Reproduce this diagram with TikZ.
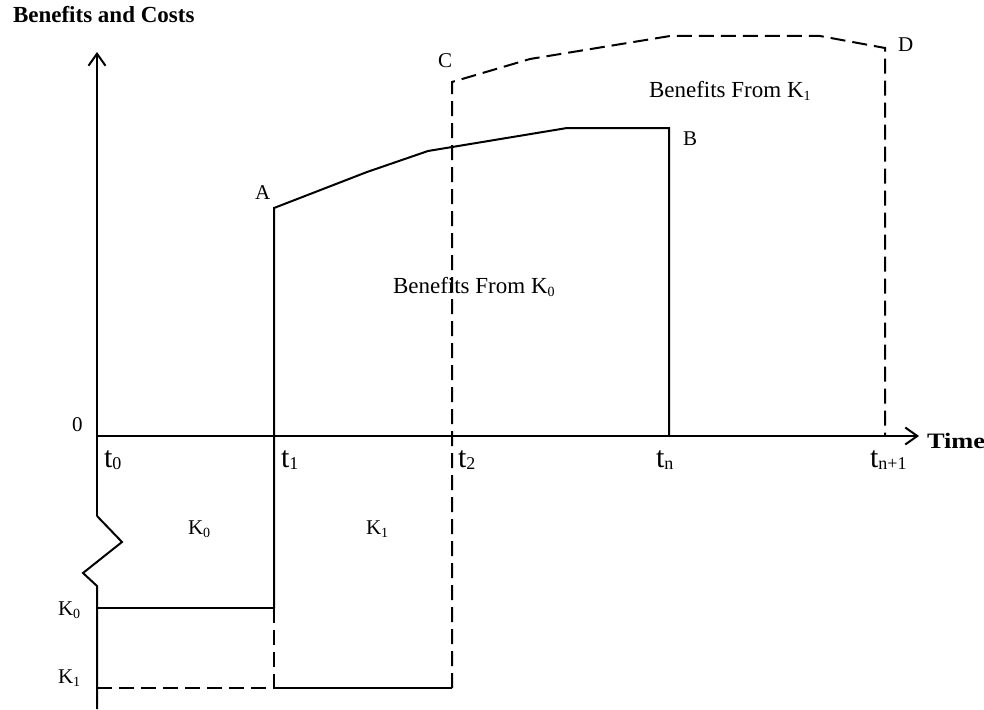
\documentclass[tikz,border=0pt]{standalone}
\usepackage{fontspec}
\setmainfont{Liberation Serif}
\usetikzlibrary{arrows.meta}
\newcommand\tsub[1]{\raisebox{-2pt}{\fontsize{18}{19}\selectfont #1}}
\newcommand\ksub[1]{\raisebox{-3pt}{\fontsize{14}{15}\selectfont #1}}
\begin{document}
\begin{tikzpicture}[x=1pt,y=-1pt, line width=2pt,
  lbl/.style={font=\fontsize{21}{24}\selectfont, inner sep=0pt, anchor=base west},
  blbl/.style={font=\fontsize{23}{26}\selectfont, inner sep=0pt, anchor=base west},
  tl/.style={font=\fontsize{30}{32}\selectfont, inner sep=0pt, anchor=base west},
  dsh/.style={dash pattern=on 15pt off 7pt},
  arr/.style={-{Straight Barb[length=12pt,width=17pt]}}]
\useasboundingbox (0,0) rectangle (984,709);
% key points
\coordinate (O) at (97,436);
\coordinate (ytop) at (97,52);
\coordinate (ybrk1) at (97,516);
\coordinate (z1) at (122,542);
\coordinate (z2) at (83,573);
\coordinate (ybrk2) at (97,586);
\coordinate (ybot) at (97,709);
\coordinate (xend) at (919,436);
\coordinate (A) at (274,208);
\coordinate (A1) at (367,172);
\coordinate (A2) at (428,151);
\coordinate (A4) at (567,128);
\coordinate (B) at (669,128);
\coordinate (Bb) at (669,436);
\coordinate (t1k0) at (274,608);
\coordinate (t1k1) at (274,688);
\coordinate (k0l) at (97,608);
\coordinate (k1l) at (97,688);
\coordinate (t2k1) at (452,688);
\coordinate (C) at (452,82);
\coordinate (C1) at (530,59);
\coordinate (C2) at (670,36);
\coordinate (C3) at (820,36);
\coordinate (D) at (885,48);
\coordinate (Db) at (885,436);
% axes
\draw[arr] (ybrk1) -- (ytop);
\draw (ybrk1) -- (z1) -- (z2) -- (ybrk2) -- (ybot);
\draw[arr] (O) -- (xend);
% K0 benefits
\draw (t1k0) -- (A) -- (A1) -- (A2) -- (A4) -- (B) -- (Bb);
\draw (k0l) -- (t1k0);
\draw[dsh] (t1k0) -- (t1k1);
\draw[dsh] (k1l) -- (t1k1);
\draw (t1k1) -- (t2k1);
% K1 benefits
\draw[dsh] (t2k1) -- (C) -- (C1) -- (C2) -- (C3) -- (D) -- (Db);
% labels
\node[font=\bfseries\fontsize{23}{26}\selectfont, inner sep=0pt, anchor=base west] (title) at (12,23) {Benefits and Costs};
\node[font=\bfseries\fontsize{22}{26}\selectfont, inner sep=0pt, anchor=base west] (time) at (926,448) {\scalebox{1.2}[1]{Time}};
\node[blbl] (bk1) at (648,97) {Benefits From K\ksub{1}};
\node[blbl] (bk0) at (392,293) {Benefits From K\ksub{0}};
\node[lbl] (lA) at (254,199) {A};
\node[lbl] (lB) at (682,145) {B};
\node[lbl] (lC) at (437,67) {C};
\node[lbl] (lD) at (897,52) {D};
\node[lbl] (l0) at (71,431) {0};
\node[lbl] (mk0) at (187,534) {K\ksub{0}};
\node[lbl] (mk1) at (365,534) {K\ksub{1}};
\node[lbl] (lk0) at (57,615) {K\ksub{0}};
\node[lbl] (lk1) at (57,683) {K\ksub{1}};
\node[tl] (lt0) at (103,467) {t\tsub{0}};
\node[tl] (lt1) at (280,467) {t\tsub{1}};
\node[tl] (lt2) at (457,467) {t\tsub{2}};
\node[tl] (ltn) at (655,467) {t\tsub{n}};
\node[tl] (ltn1) at (869,467) {t\tsub{n+1}};
\end{tikzpicture}
\end{document}
